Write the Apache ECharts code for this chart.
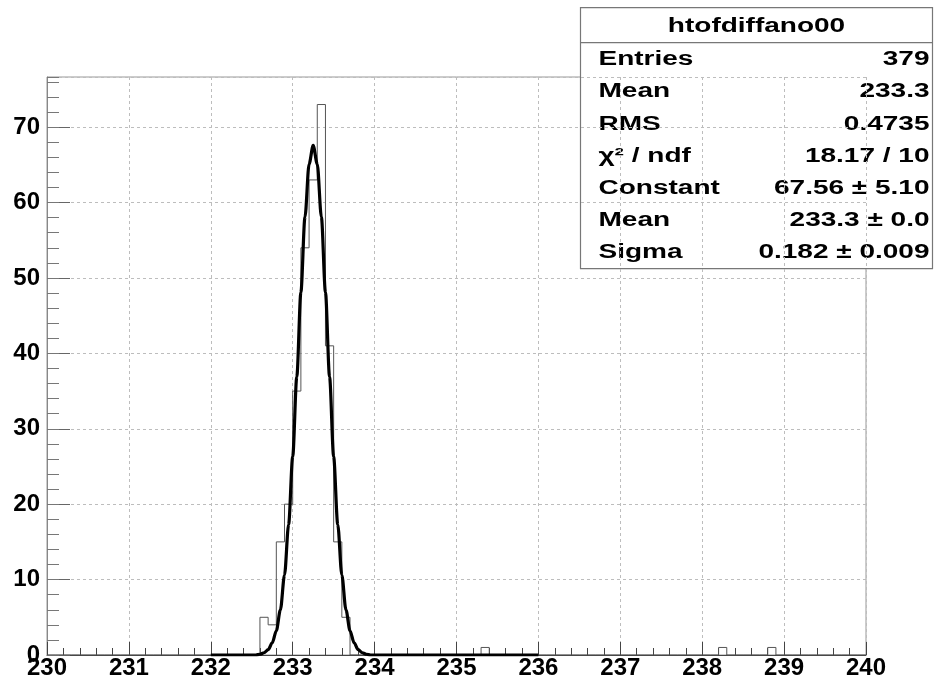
<!DOCTYPE html>
<html>
<head>
<meta charset="utf-8">
<script src="https://cdn.jsdelivr.net/npm/echarts@6/dist/echarts.min.js"></script>
<style>
  html, body { margin: 0; padding: 0; background: #fff; }
  #main { width: 943px; height: 685px; }
</style>
</head>
<body>
<div id="main"></div>
<script>
// histogram htofdiffano00 : 100 bins from 230 to 240
var histMin = 230;
var histMax = 240;
var histBins = 100;
// non-empty bins (low edge) and their counts
var binLowEdges = [232.6, 232.7, 232.8, 232.9, 233.0, 233.1, 233.2, 233.3, 233.4, 233.5, 233.6, 235.3, 238.2, 238.8];
var binCounts   = [5, 4, 15, 20, 35, 54, 63, 73, 41, 15, 5, 1, 1, 1];

// gaus fit curve (fit range 232 - 236)
var fitX = [232.0, 232.5, 232.55, 232.6, 232.65, 232.7, 232.75, 232.8, 232.85, 232.9, 232.95,
            233.0, 233.05, 233.1, 233.15, 233.2, 233.25, 233.3, 233.35, 233.4, 233.45,
            233.5, 233.55, 233.6, 233.65, 233.7, 233.75, 233.8, 233.85, 233.9, 233.95, 234.0, 236.0];
var fitY = [0, 0, 0, 0.1, 0.3, 0.7, 1.6, 3.2, 6.0, 10.6, 17.3,
            26.3, 36.9, 48.1, 58.1, 65.1, 67.6, 65.1, 58.1, 48.1, 36.9,
            26.3, 17.3, 10.6, 6.0, 3.2, 1.6, 0.7, 0.3, 0.1, 0, 0, 0];

// stats box
var statsTitle = 'htofdiffano00';
var statsNames  = ['Entries', 'Mean', 'RMS', 'χ² / ndf', 'Constant', 'Mean', 'Sigma'];
var statsValues = ['379', '233.3', '0.4735', '18.17 / 10', '67.56 ± 5.10', '233.3 ± 0.0', '0.182 ± 0.009'];

var yMax = 76.65;

var chart = echarts.init(document.getElementById('main'));

// build step data for the whole histogram
var filled = {};
for (var i = 0; i < binLowEdges.length; i++) {
  filled[Math.round(binLowEdges[i] * 10)] = binCounts[i];
}
var binW = (histMax - histMin) / histBins;
var histData = [];
var last = 0;
for (var b = 0; b < histBins; b++) {
  var edge = histMin + b * binW;
  var key = Math.round(edge * 10);
  last = filled[key] || 0;
  histData.push([+edge.toFixed(2), last]);
}
histData.push([histMax, last]);

var fitData = [];
for (var k = 0; k < fitX.length; k++) {
  fitData.push([fitX[k], fitY[k]]);
}

// stats box graphic
var FONT = '"Liberation Sans", Arial, sans-serif';
var boxChildren = [
  { type: 'rect', shape: { x: 0, y: 0, width: 352, height: 261 },
    style: { fill: '#fff', stroke: '#777', lineWidth: 1.2 } },
  { type: 'line', shape: { x1: 0, y1: 35, x2: 352, y2: 35 },
    style: { stroke: '#777', lineWidth: 1.2 } },
  { type: 'text', x: 176, y: 19, scaleX: 1.4,
    style: { text: statsTitle, fontSize: 20, fontWeight: 'bold', fontFamily: FONT,
             fill: '#000', align: 'center', verticalAlign: 'middle' } }
];
for (var r = 0; r < statsNames.length; r++) {
  var yy = 52 + r * 32.2;
  boxChildren.push({ type: 'text', x: 18, y: yy, scaleX: 1.4,
    style: { text: statsNames[r], fontSize: 20, fontWeight: 'bold', fontFamily: FONT,
             fill: '#000', align: 'left', verticalAlign: 'middle' } });
  boxChildren.push({ type: 'text', x: 349, y: yy, scaleX: 1.4,
    style: { text: statsValues[r], fontSize: 20, fontWeight: 'bold', fontFamily: FONT,
             fill: '#000', align: 'right', verticalAlign: 'middle' } });
}

var gridLine = { show: true, lineStyle: { color: '#bdbdbd', width: 1, type: [3, 3] } };

var option = {
  backgroundColor: '#fff',
  animation: false,
  grid: { left: 47, right: 77, top: 77, bottom: 30, show: true, borderColor: '#999', borderWidth: 1 },
  xAxis: {
    type: 'value', min: histMin, max: histMax, interval: 1,
    axisLine: { show: true, lineStyle: { color: '#444', width: 1 } },
    axisTick: { show: true, inside: true, length: 13, lineStyle: { color: '#444' } },
    minorTick: { show: true, splitNumber: 5, length: 7, lineStyle: { color: '#444' } },
    axisLabel: { color: '#000', fontSize: 24, fontWeight: 'bold', fontFamily: FONT, margin: 1 },
    splitLine: gridLine
  },
  yAxis: [
    {
      type: 'value', min: 0, max: yMax, interval: 10,
      axisLine: { show: true, lineStyle: { color: '#888', width: 1 } },
      axisTick: { show: true, inside: true, length: 23, lineStyle: { color: '#666' } },
      axisLabel: { color: '#000', fontSize: 24, fontWeight: 'bold', fontFamily: FONT, margin: 7,
                   showMaxLabel: false },
      splitLine: gridLine
    },
    {
      // minor ticks every 2 counts
      type: 'value', min: 0, max: yMax, interval: 2, position: 'left', offset: 0,
      axisLine: { show: false },
      axisTick: { show: true, inside: true, length: 12, lineStyle: { color: '#777' } },
      axisLabel: { show: false },
      splitLine: { show: false }
    }
  ],
  series: [
    {
      name: 'htofdiffano00', type: 'line', step: 'end', data: histData,
      symbol: 'none', yAxisIndex: 0,
      lineStyle: { color: '#555', width: 1 }
    },
    {
      name: 'gaus', type: 'line', data: fitData, smooth: 0.3, smoothMonotone: 'x',
      symbol: 'none', yAxisIndex: 0, z: 3,
      lineStyle: { color: '#000', width: 3.2 }
    }
  ],
  graphic: [
    { type: 'group', left: 578, top: 7, z: 100, children: boxChildren }
  ]
};

chart.setOption(option);
</script>
</body>
</html>
